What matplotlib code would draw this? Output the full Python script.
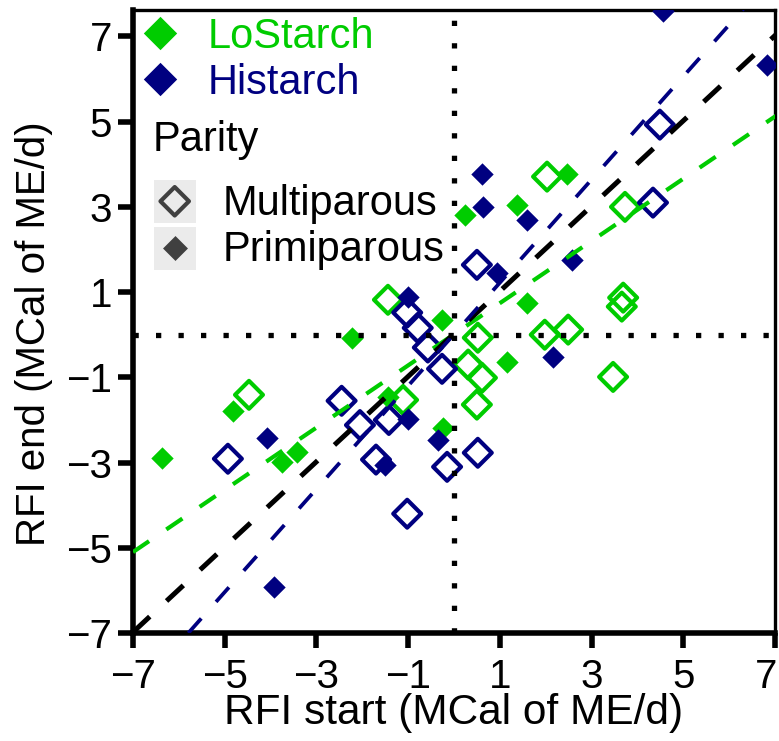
import numpy as np
import matplotlib
matplotlib.use('Agg')
import matplotlib.pyplot as plt
import matplotlib.transforms as mtransforms
from matplotlib.patches import Rectangle

plt.rcParams['font.family'] = ['Liberation Sans', 'DejaVu Sans']
plt.rcParams['lines.scale_dashes'] = False

GREEN = '#00CC00'
NAVY = '#000080'

# LoStarch, multiparous (open) and primiparous (filled)
lo_multi_x = [-4.47, -1.44, -1.11, 0.52, 0.31, 0.61, 0.50, 1.98, 2.49, 3.69, 3.66, 3.47, 2.03, 3.73]
lo_multi_y = [-1.41, 0.82, -1.53, -0.07, -0.70, -1.01, -1.64, 0.00, 0.12, 0.87, 0.66, -0.99, 3.71, 3.00]
lo_primi_x = [-6.37, -4.82, -3.75, -3.42, -2.22, -1.44, -0.26, -0.24, 0.24, 1.37, 2.46, 1.59, 1.16]
lo_primi_y = [-2.89, -1.79, -2.98, -2.75, -0.07, -1.46, 0.35, -2.18, 2.82, 3.05, 3.76, 0.75, -0.63]

# Histarch
hi_multi_x = [-4.93, -2.45, -2.05, -1.70, -1.42, -1.02, -1.02, -0.79, -0.57, -0.26, -0.15, 0.52, 0.50, 4.49, 4.34]
hi_multi_y = [-2.91, -1.55, -2.12, -2.93, -2.00, -4.20, 0.52, 0.16, -0.30, -0.80, -3.10, -2.77, 1.64, 4.93, 3.10]
hi_primi_x = [-3.92, -4.08, -1.51, -1.00, -1.00, -0.35, 0.61, 0.63, 1.59, 2.57, 0.94, 2.16, 4.56, 6.83]
hi_primi_y = [-5.92, -2.42, -3.05, 0.89, -1.97, -2.47, 3.76, 3.00, 2.70, 1.76, 1.46, -0.52, 7.59, 6.34]

# regression lines (slope, intercept)
fit_lo = (0.73, 0.01)
fit_hi = (1.21, 0.01)
fit_all = (1.00, 0.02)

ticks = [-7, -5, -3, -1, 1, 3, 5, 7]

fig = plt.figure(figsize=(7.79, 7.41), dpi=100)
ax = fig.add_axes([0.1707, 0.1457, 0.8241, 0.8408])

open_ms = 14.2
fill_ms = 11.4
ax.scatter(lo_multi_x, lo_multi_y, marker='D', s=open_ms**2, facecolors='none',
           edgecolors=GREEN, linewidths=3.0, zorder=2)
ax.scatter(hi_multi_x, hi_multi_y, marker='D', s=open_ms**2, facecolors='none',
           edgecolors=NAVY, linewidths=3.0, zorder=2)
ax.scatter(lo_primi_x, lo_primi_y, marker='D', s=fill_ms**2, color=GREEN,
           linewidths=0, zorder=3)
ax.scatter(hi_primi_x, hi_primi_y, marker='D', s=fill_ms**2, color=NAVY,
           linewidths=0, zorder=3)

xx = np.array([-7.0, 7.5])
ax.plot(xx, fit_lo[0] * xx + fit_lo[1], color=GREEN, lw=3.0, dashes=[14, 15],
        dash_capstyle='butt', zorder=4)
ax.plot(xx, fit_all[0] * xx + fit_all[1], color='black', lw=3.6, dashes=[16.5, 16.5],
        dash_capstyle='butt', zorder=4)
ax.plot(xx, fit_hi[0] * xx + fit_hi[1], color=NAVY, lw=2.7, dashes=[14, 16],
        dash_capstyle='butt', zorder=4)

# reference lines at zero
ax.axhline(0, color='black', lw=3.8, dashes=[3.8, 12.4], dash_capstyle='butt', zorder=5)
ax.axvline(0, color='black', lw=3.8, dashes=[3.8, 12.4], dash_capstyle='butt', zorder=5)

ax.set_xlim(-7, 7)
ax.set_ylim(-7, 7.62)
ax.set_xticks(ticks)
ax.set_yticks(ticks)
ax.tick_params(axis='both', labelsize=29, width=4, length=11, color='black')
ax.tick_params(axis='x', pad=7)
ax.tick_params(axis='y', pad=4)
for side in ['left', 'bottom']:
    ax.spines[side].set_linewidth(4)
for side in ['top', 'right']:
    ax.spines[side].set_linewidth(2.4)

# keep the last x tick label inside the figure
last = ax.get_xticklabels()[-1]
last.set_transform(last.get_transform() +
                   mtransforms.ScaledTranslation(-9 / 100, 0, fig.dpi_scale_trans))

ax.set_xlabel('RFI start (MCal of ME/d)', fontsize=30.5)
ax.xaxis.set_label_coords(0.5, -0.097)
ax.set_ylabel('RFI end (MCal of ME/d)', fontsize=29)
ax.yaxis.set_label_coords(-0.125, 0.48)

# legend built by hand
ax.scatter([0.042], [0.963], marker='D', s=17**2, color=GREEN, linewidths=0,
           transform=ax.transAxes, zorder=6, clip_on=False)
ax.text(0.117, 0.939, 'LoStarch', color=GREEN, fontsize=30, transform=ax.transAxes,
        va='baseline', ha='left', zorder=6)
ax.scatter([0.042], [0.889], marker='D', s=17**2, color=NAVY, linewidths=0,
           transform=ax.transAxes, zorder=6, clip_on=False)
ax.text(0.117, 0.865, 'Histarch', color=NAVY, fontsize=30, transform=ax.transAxes,
        va='baseline', ha='left', zorder=6)
ax.text(0.031, 0.774, 'Parity', color='black', fontsize=30, transform=ax.transAxes,
        va='baseline', ha='left', zorder=6)
for y0 in [0.658, 0.583]:
    ax.add_patch(Rectangle((0.033, y0), 0.065, 0.069, transform=ax.transAxes,
                           facecolor='#EBEBEB', edgecolor='none', zorder=5))
ax.scatter([0.065], [0.693], marker='D', s=14.5**2, facecolors='none', edgecolors='#404040',
           linewidths=3.0, transform=ax.transAxes, zorder=6)
ax.scatter([0.065], [0.618], marker='D', s=12.7**2, color='#404040', linewidths=0,
           transform=ax.transAxes, zorder=6)
ax.text(0.139, 0.671, 'Multiparous', color='black', fontsize=30, transform=ax.transAxes,
        va='baseline', ha='left', zorder=6)
ax.text(0.139, 0.597, 'Primiparous', color='black', fontsize=30, transform=ax.transAxes,
        va='baseline', ha='left', zorder=6)

fig.savefig('out.png', dpi=100)
